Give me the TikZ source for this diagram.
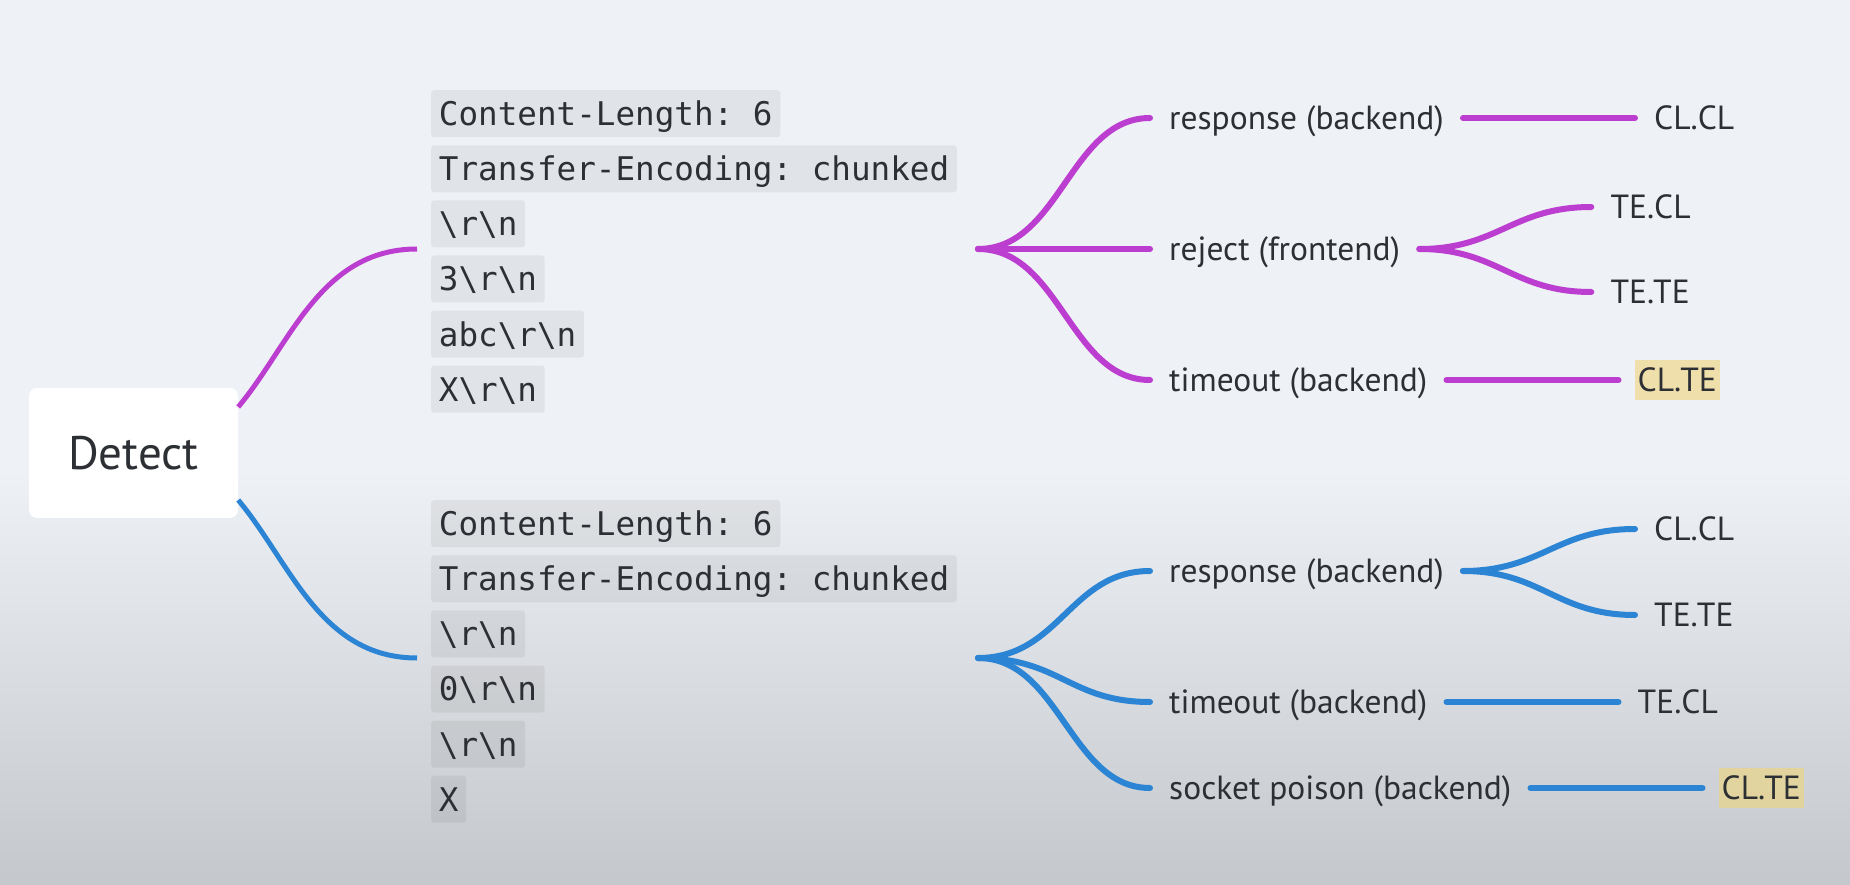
\documentclass[tikz,border=0pt]{standalone}
\usepackage{fontspec}
\setmainfont{PT Sans}
\setmonofont{DejaVu Sans Mono}
\usetikzlibrary{positioning}

\definecolor{bgtop}{RGB}{238,241,245}
\definecolor{bgbot}{RGB}{196,199,203}
\definecolor{ink}{RGB}{44,47,51}
\definecolor{purp}{RGB}{188,62,208}
\definecolor{blu}{RGB}{44,132,212}
\definecolor{hl}{RGB}{240,214,122}

\newcommand{\rnseq}{\textbackslash r\textbackslash n}

\tikzset{
  codebox/.style={fill=black, fill opacity=0.055, text opacity=1, text=ink,
    rounded corners=3pt, font=\ttfamily\fontsize{32.6}{36}\selectfont,
    inner xsep=7.7pt, inner ysep=11.6pt, text height=23.8pt, text depth=0pt,
    anchor=north west},
  branchtxt/.style={text=ink, font=\fontsize{33.5}{38}\selectfont,
    inner xsep=3pt, inner ysep=8.5pt, text height=23.4pt, text depth=0pt},
  marked/.style={fill=hl, fill opacity=0.6, text opacity=1},
  limb/.style={line width=6pt, line cap=round, shorten >=16pt},
  twig/.style={line width=6pt, line cap=round, shorten <=16pt, shorten >=16pt},
}

\begin{document}
\begin{tikzpicture}[x=1pt,y=-1pt]
\fill[bgtop] (0,0) rectangle (1850,885);
\shade[top color=bgtop, bottom color=bgbot] (0,470) rectangle (1850,885);
\useasboundingbox (0,0) rectangle (1850,885);

% root
\node[fill=white, rounded corners=8pt, minimum width=209pt, minimum height=130pt,
  inner sep=0pt, text=ink, font=\fontsize{47}{50}\selectfont,
  text height=33pt, text depth=0pt] (detect) at (133.5,453) {Detect};

% first request
\node[codebox] (a1) at (431,90) {Content-Length: 6};
\node[codebox, below=7.7pt of a1.south west, anchor=north west] (a2) {Transfer-Encoding: chunked};
\node[codebox, below=7.7pt of a2.south west, anchor=north west] (a3) {\rnseq};
\node[codebox, below=7.7pt of a3.south west, anchor=north west] (a4) {3\rnseq};
\node[codebox, below=7.7pt of a4.south west, anchor=north west] (a5) {abc\rnseq};
\node[codebox, below=7.7pt of a5.south west, anchor=north west] (a6) {X\rnseq};

% second request
\node[codebox] (b1) at (431,500) {Content-Length: 6};
\node[codebox, below=7.7pt of b1.south west, anchor=north west] (b2) {Transfer-Encoding: chunked};
\node[codebox, below=7.7pt of b2.south west, anchor=north west] (b3) {\rnseq};
\node[codebox, below=7.7pt of b3.south west, anchor=north west] (b4) {0\rnseq};
\node[codebox, below=7.7pt of b4.south west, anchor=north west] (b5) {\rnseq};
\node[codebox, below=7.7pt of b5.south west, anchor=north west] (b6) {X};

\coordinate (in1) at (417,249);
\coordinate (in2) at (417,658);
\draw[purp, line width=5pt] ([yshift=46pt]detect.east) .. controls +(52,-62) and +(-97,0) .. (in1);
\draw[blu, line width=5pt] ([yshift=-47pt]detect.east) .. controls +(52,62) and +(-97,0) .. (in2);

% outcomes, first request
\coordinate (out1) at (978,249);
\node[branchtxt, anchor=west] (p1) at (1166,118) {response (backend)};
\node[branchtxt, anchor=west] (p2) at (1166,249) {reject (frontend)};
\node[branchtxt, anchor=west] (p3) at (1166,380) {timeout (backend)};
\draw[limb, purp] (out1) .. controls +(82,0) and +(-96,0) .. (p1.west);
\draw[limb, purp] (out1) -- (p2.west);
\draw[limb, purp] (out1) .. controls +(82,0) and +(-96,0) .. (p3.west);

\node[branchtxt, right=204pt of p1] (q1) {CL.CL};
\node[branchtxt, right=204pt of p2, yshift=42pt] (q2) {TE.CL};
\node[branchtxt, right=204pt of p2, yshift=-43pt] (q3) {TE.TE};
\node[branchtxt, marked, right=204pt of p3] (q4) {CL.TE};
\draw[twig, purp] (p1.east) -- (q1.west);
\draw[twig, purp] (p2.east) .. controls +(95,0) and +(-95,0) .. (q2.west);
\draw[twig, purp] (p2.east) .. controls +(95,0) and +(-95,0) .. (q3.west);
\draw[twig, purp] (p3.east) -- (q4.west);

% outcomes, second request
\coordinate (out2) at (978,658);
\node[branchtxt, anchor=west] (s1) at (1166,571) {response (backend)};
\node[branchtxt, anchor=west] (s2) at (1166,702) {timeout (backend)};
\node[branchtxt, anchor=west] (s3) at (1166,788) {socket poison (backend)};
\draw[limb, blu] (out2) .. controls +(82,0) and +(-96,0) .. (s1.west);
\draw[limb, blu] (out2) .. controls +(82,0) and +(-96,0) .. (s2.west);
\draw[limb, blu] (out2) .. controls +(82,0) and +(-96,0) .. (s3.west);

\node[branchtxt, right=204pt of s1, yshift=42pt] (t1) {CL.CL};
\node[branchtxt, right=204pt of s1, yshift=-44pt] (t2) {TE.TE};
\node[branchtxt, right=204pt of s2] (t3) {TE.CL};
\node[branchtxt, marked, right=204pt of s3] (t4) {CL.TE};
\draw[twig, blu] (s1.east) .. controls +(95,0) and +(-95,0) .. (t1.west);
\draw[twig, blu] (s1.east) .. controls +(95,0) and +(-95,0) .. (t2.west);
\draw[twig, blu] (s2.east) -- (t3.west);
\draw[twig, blu] (s3.east) -- (t4.west);
\end{tikzpicture}
\end{document}
